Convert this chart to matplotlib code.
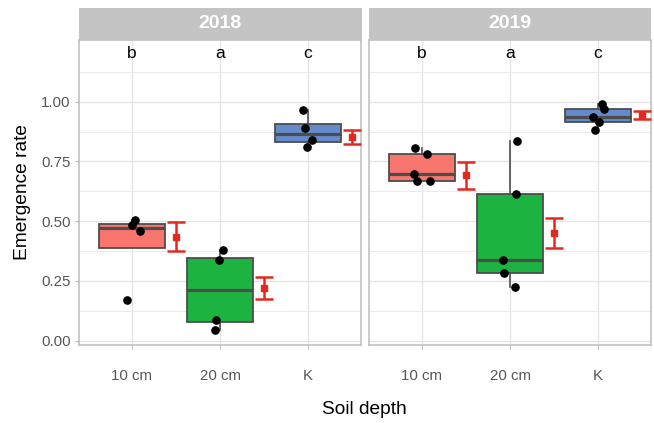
import matplotlib
matplotlib.use("Agg")
import matplotlib.pyplot as plt
import numpy as np

plt.rcParams["font.family"] = ["Liberation Sans", "DejaVu Sans"]

years = ["2018", "2019"]
depths = ["10 cm", "20 cm", "K"]
letters = ["b", "a", "c"]
colors = ["#F8766D", "#1DB341", "#648CCD"]

# individual observations per year and depth
obs_2018 = [[0.505, 0.483, 0.461, 0.171],
            [0.379, 0.336, 0.088, 0.045],
            [0.967, 0.889, 0.839, 0.811]]
obs_2019 = [[0.808, 0.780, 0.699, 0.670, 0.670],
            [0.836, 0.614, 0.338, 0.282, 0.225],
            [0.992, 0.971, 0.935, 0.915, 0.883]]
# horizontal jitter of the points as seen in the picture
jit_2018 = [[0.04, 0.0, 0.09, -0.06],
            [0.03, -0.01, -0.05, -0.06],
            [-0.06, -0.03, 0.04, -0.01]]
jit_2019 = [[-0.08, 0.06, -0.09, -0.05, 0.09],
            [0.08, 0.07, -0.08, -0.07, 0.06],
            [0.04, 0.07, -0.06, 0.01, -0.04]]
# mean and error bar limits
mean_2018 = [0.435, 0.222, 0.851]
lo_2018 = [0.376, 0.175, 0.822]
hi_2018 = [0.496, 0.267, 0.883]
mean_2019 = [0.693, 0.450, 0.945]
lo_2019 = [0.636, 0.388, 0.928]
hi_2019 = [0.747, 0.512, 0.962]

obs = [obs_2018, obs_2019]
jit = [jit_2018, jit_2019]
means = [mean_2018, mean_2019]
los = [lo_2018, lo_2019]
his = [hi_2018, hi_2019]

W, H = 654, 423
fig = plt.figure(figsize=(W / 100, H / 100), dpi=100)

border = "#BDBDBD"
grid = "#E3E3E3"
lefts = [79, 369]
pw = 282
top, bottom = 40, 345

for i, year in enumerate(years):
    ax = fig.add_axes([lefts[i] / W, (H - bottom) / H, pw / W, (bottom - top) / H])
    pos = np.arange(1, 4)
    bp = ax.boxplot(obs[i], positions=pos, widths=0.75, patch_artist=True,
                    showfliers=False, showcaps=False, whis=1.5,
                    medianprops=dict(color="#4D4D4D", linewidth=2.3),
                    whiskerprops=dict(color="#4D4D4D", linewidth=1.2),
                    boxprops=dict(edgecolor="#4D4D4D", linewidth=1.3),
                    zorder=3)
    for patch, c in zip(bp["boxes"], colors):
        patch.set_facecolor(c)
    for k in range(3):
        xs = pos[k] + np.array(jit[i][k])
        ax.plot(xs, obs[i][k], "o", color="black", markersize=5.2, zorder=4)
    m = np.array(means[i])
    ax.errorbar(pos + 0.5, m, yerr=[m - np.array(los[i]), np.array(his[i]) - m],
                fmt="s", color="#E3291F", markersize=3.8, elinewidth=1.8,
                capsize=6.5, capthick=1.8, zorder=4)
    for k in range(3):
        ax.text(pos[k], 1.2, letters[k], ha="center", va="center", fontsize=12.5)

    ax.set_xlim(0.4, 3.6)
    ax.set_ylim(-0.018, 1.258)
    ax.set_xticks(pos)
    ax.set_xticklabels(depths)
    ax.set_yticks([0, 0.25, 0.5, 0.75, 1.0])
    ax.set_yticks([0.125, 0.375, 0.625, 0.875, 1.125], minor=True)
    ax.grid(True, which="major", color=grid, linewidth=0.9, zorder=0)
    ax.grid(True, which="minor", axis="y", color=grid, linewidth=0.5, zorder=0)
    ax.set_axisbelow(True)
    ax.tick_params(axis="both", which="major", length=3, color=border,
                   labelcolor="#555555", labelsize=10.8, pad=3)
    ax.tick_params(axis="x", pad=14)
    ax.tick_params(which="minor", length=0)
    for s in ax.spines.values():
        s.set_color(border)
        s.set_linewidth(1.1)
    if i == 0:
        ax.set_yticklabels(["0.00", "0.25", "0.50", "0.75", "1.00"])
        ax.set_ylabel("Emergence rate", fontsize=13.8, labelpad=7)
    else:
        ax.tick_params(axis="y", left=False, labelleft=False)

    sax = fig.add_axes([(lefts[i] - 0.5) / W, (H - top) / H, (pw + 1) / W, 32 / H])
    sax.set_facecolor("#C4C4C4")
    sax.set_xticks([])
    sax.set_yticks([])
    for s in sax.spines.values():
        s.set_visible(False)
    sax.text(0.5, 0.5, year, ha="center", va="center", color="white",
             fontsize=14, fontweight="bold", transform=sax.transAxes)

fig.text((79 + 650) / 2 / W, 1 - 409 / H, "Soil depth", ha="center", va="center",
         fontsize=13.8)

fig.savefig("out.png", dpi=100)
